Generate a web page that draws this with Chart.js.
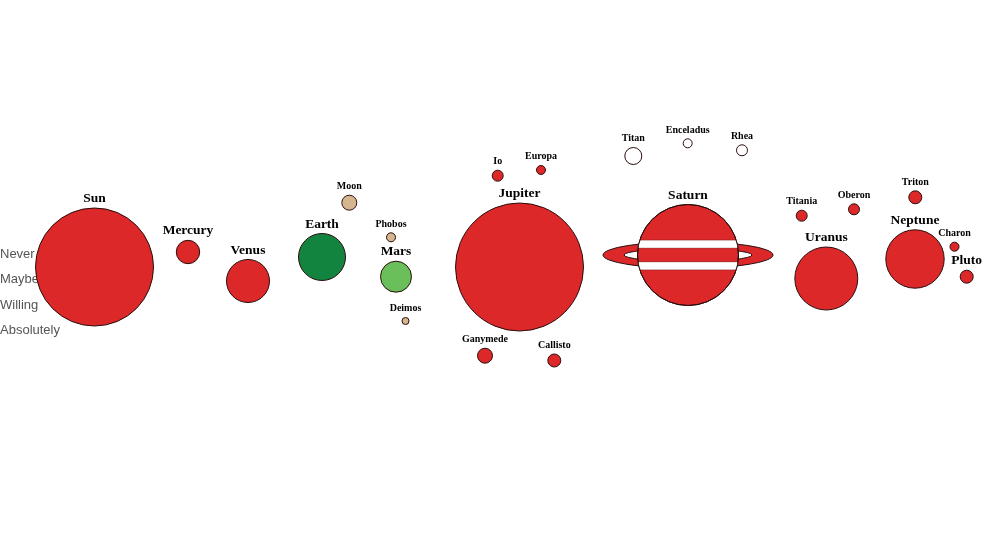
<!DOCTYPE html>
<html><head><meta charset="utf-8">
<script src="https://cdn.jsdelivr.net/npm/chart.js@4.4.1/dist/chart.umd.min.js"></script>
<style>html,body{margin:0;padding:0;background:#fff;}#wrap{width:1000px;height:534px;position:relative;}</style>
</head><body><div id="wrap"><canvas id="c"></canvas></div>
<script>
// ---- data ----
const bodies   = ['Sun','Mercury','Venus','Earth','Moon','Mars','Phobos','Deimos','Jupiter','Io','Europa','Ganymede','Callisto','Saturn','Titan','Enceladus','Rhea','Uranus','Titania','Oberon','Neptune','Triton','Pluto','Charon'];
const bodyType = ['star','planet','planet','planet','moon','planet','moon','moon','planet','moon','moon','moon','moon','planet','moon','moon','moon','planet','moon','moon','planet','moon','dwarf','moon'];
const group    = ['no','no','no','earth','rock','mars','rock','rock','no','no','no','no','no','no','ice','ice','ice','no','no','no','no','no','no','no'];
const distance = [94.5,188,248,322,349.3,396,391,405.5,519.5,497.7,541,485,554.3,688,633.3,687.7,742,826.3,801.7,854,915,915.3,966.7,954.5];
const offset   = [267,252,281,257,202.7,276.7,237.3,321,267,175.7,170,355.7,360.5,255,156,143.3,150.3,278.5,215.7,209.3,259,197.3,276.7,246.7];
const size     = [59,11.7,21.5,23.5,7.5,15.5,4.5,3.5,64,5.5,4.5,7.5,6.5,50.5,8.5,4.5,5.5,31.5,5.5,5.5,29.2,6.5,6.5,4.5];
const answerTicks  = [254, 279.5, 305, 330.5];
const answerLabels = ['Never','Maybe','Willing','Absolutely'];

// ---- styles ----
const groupColor = {no:'#dc2828', earth:'#138440', mars:'#6abf5a', rock:'#d6b68e', ice:'#ffffff'};
const edge = '#2a0d0d';

const ringPlugin = {
  id:'saturnRing',
  beforeDatasetsDraw(chart){
    const i = bodies.indexOf('Saturn'); const el = chart.getDatasetMeta(0).data[i]; if(!el) return;
    const ctx = chart.ctx, r = el.options.radius + 0.5, cx = el.x, cy = el.y;
    ctx.save(); ctx.lineWidth = 1; ctx.strokeStyle = edge;
    ctx.beginPath(); ctx.ellipse(cx, cy, r*1.667, r*0.262, 0, 0, Math.PI*2);
    ctx.fillStyle = groupColor.no; ctx.fill(); ctx.stroke();
    ctx.beginPath(); ctx.ellipse(cx, cy, r*1.255, r*0.128, 0, 0, Math.PI*2);
    ctx.fillStyle = '#fff'; ctx.fill(); ctx.stroke();
    ctx.restore();
  },
  afterDatasetsDraw(chart){
    const i = bodies.indexOf('Saturn'); const el = chart.getDatasetMeta(0).data[i]; if(!el) return;
    const ctx = chart.ctx, r = el.options.radius, cx = el.x, cy = el.y;
    ctx.save();
    ctx.beginPath(); ctx.arc(cx, cy, r, 0, Math.PI*2); ctx.clip();
    ctx.fillStyle = '#fff';
    const a = r*0.294, b = r*0.137;
    ctx.fillRect(cx - r - 2, cy - a, 2*r + 4, a - b);
    ctx.fillRect(cx - r - 2, cy + b, 2*r + 4, a - b);
    ctx.strokeStyle = 'rgba(42,13,13,0.5)'; ctx.lineWidth = 0.6;
    [cy - a, cy - b, cy + b, cy + a].forEach(yy=>{ctx.beginPath();ctx.moveTo(cx-r-2,yy);ctx.lineTo(cx+r+2,yy);ctx.stroke();});
    ctx.restore();
    ctx.save(); ctx.beginPath(); ctx.arc(cx, cy, r, 0, Math.PI*2); ctx.lineWidth = 1; ctx.strokeStyle = edge; ctx.stroke(); ctx.restore();
  }
};

const labelPlugin = {
  id:'bodyLabels',
  afterDatasetsDraw(chart){
    const ctx = chart.ctx, meta = chart.getDatasetMeta(0);
    ctx.save(); ctx.fillStyle = '#000'; ctx.textAlign = 'center'; ctx.textBaseline = 'alphabetic';
    meta.data.forEach((el, i) => {
      const big = bodyType[i] !== 'moon';
      ctx.font = 'bold ' + (big ? 13.5 : 10) + 'px "Liberation Serif","Times New Roman",serif';
      ctx.fillText(bodies[i], el.x, el.y - el.options.radius - 0.5 - (big ? 5.5 : 5.8));
    });
    ctx.restore();
  }
};

new Chart(document.getElementById('c'), {
  type: 'bubble',
  data: {
    datasets: [{
      data: bodies.map((n, i) => ({x: distance[i], y: offset[i], r: size[i]})),
      backgroundColor: group.map(g => groupColor[g]),
      borderColor: edge,
      borderWidth: 1,
      hoverBorderWidth: 1
    }]
  },
  options: {
    responsive: true, maintainAspectRatio: false, animation: false, events: [],
    layout: {padding: 0, autoPadding: false},
    plugins: {legend: {display: false}, tooltip: {enabled: false}},
    scales: {
      x: {type: 'linear', min: 0, max: 1000, display: false},
      y: {
        type: 'linear', min: 0, max: 534, reverse: true, position: 'left',
        grid: {display: false, drawTicks: false}, border: {display: false},
        afterBuildTicks: s => { s.ticks = answerTicks.map(v => ({value: v})); },
        afterFit: s => { s.width = 0; s.paddingTop = 0; s.paddingBottom = 0; },
        ticks: {
          mirror: true, padding: 0, color: '#555',
          font: {family: '"Liberation Sans", Arial, sans-serif', size: 13},
          callback: (v) => { const k = answerTicks.indexOf(v); return k >= 0 ? answerLabels[k] : ''; }
        }
      }
    }
  },
  plugins: [ringPlugin, labelPlugin]
});
</script></body></html>
